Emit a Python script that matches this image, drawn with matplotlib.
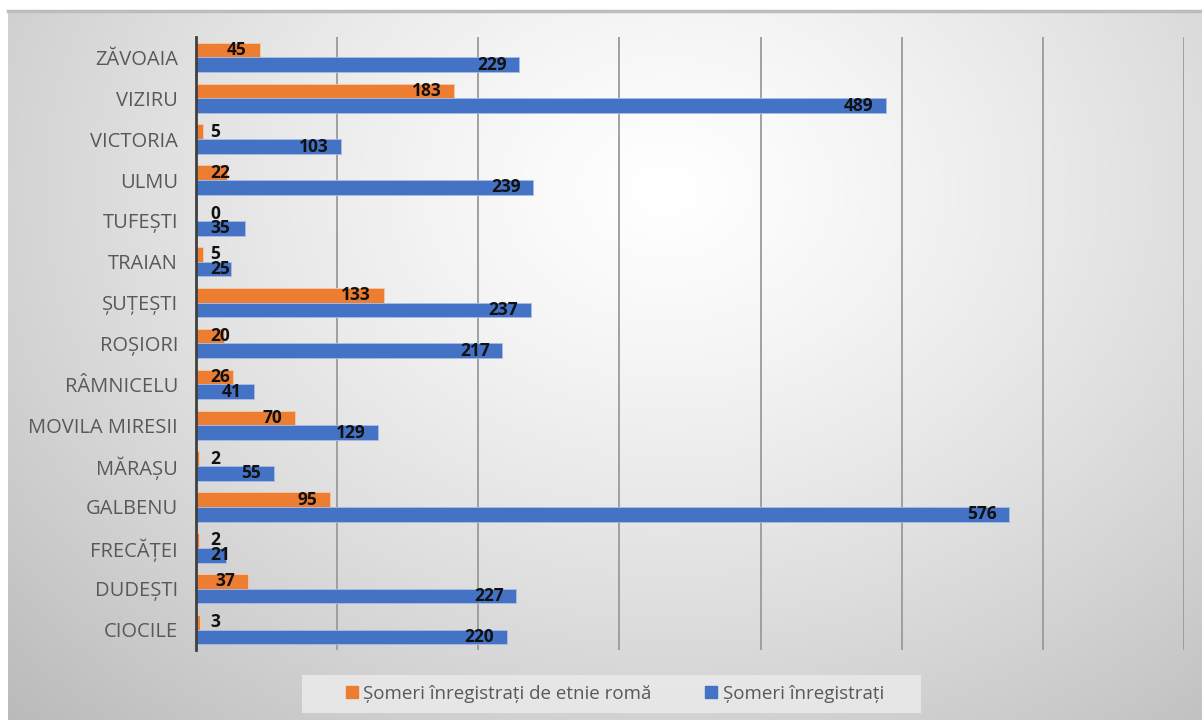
import numpy as np
import matplotlib
matplotlib.use("Agg")
import matplotlib.pyplot as plt
from matplotlib.lines import Line2D
from matplotlib.patches import Rectangle

plt.rcParams['font.family'] = ['Open Sans', 'DejaVu Sans']

categories = ["ZĂVOAIA", "VIZIRU", "VICTORIA", "ULMU", "TUFEȘTI", "TRAIAN", "ȘUȚEȘTI",
              "ROȘIORI", "RÂMNICELU", "MOVILA MIRESII", "MĂRAȘU", "GALBENU", "FRECĂȚEI",
              "DUDEȘTI", "CIOCILE"]
roma = [45, 183, 5, 22, 0, 5, 133, 20, 26, 70, 2, 95, 2, 37, 3]
total = [229, 489, 103, 239, 35, 25, 237, 217, 41, 129, 55, 576, 21, 227, 220]
series_names = ["Șomeri înregistrați de etnie romă", "Șomeri înregistrați"]
orange = "#ED7D31"
blue = "#4472C4"

W, H = 1202, 720
fig = plt.figure(figsize=(W / 100, H / 100), dpi=100)
fig.patch.set_facecolor("white")

# gradient background of chart area
bg = fig.add_axes([8 / W, 0, 1 - 8 / W, 1 - 11 / H])
bg.set_axis_off()
ny, nx = 300, 500
yy, xx = np.mgrid[0:ny, 0:nx]
cx, cy = 0.55 * nx, 0.25 * ny
r = np.sqrt(((xx - cx) / nx) ** 2 + ((yy - cy) / ny * 0.75) ** 2)
r = r / r.max()
val = 1.0 - 0.27 * np.clip(r, 0, 1) ** 1.3
img = np.dstack([val, val, val])
bg.imshow(img, aspect="auto", extent=[0, 1, 0, 1], origin="upper")
bg.set_xlim(0, 1)
bg.set_ylim(0, 1)
bg.plot([0, 1], [1, 1], color="#bdbdbd", lw=2.5, transform=bg.transAxes, clip_on=False)

ax = fig.add_axes([196 / W, 1 - 650 / H, (1184 - 196) / W, (650 - 37) / H])
ax.patch.set_alpha(0)
y = np.arange(len(categories))
h = 0.36
ax.barh(y - 0.18, roma, height=h, color=orange, edgecolor="#f5c9a8", linewidth=0.6, zorder=3)
ax.barh(y + 0.18, total, height=h, color=blue, edgecolor="#a9bde6", linewidth=0.6, zorder=3)

ax.set_xlim(0, 700)
ax.set_ylim(len(categories) - 0.5, -0.5)
ax.set_xticks(np.arange(0, 701, 100))
ax.set_xticklabels([])
ax.tick_params(axis="x", length=0)
ax.tick_params(axis="y", length=0, pad=13, labelsize=14.5, labelcolor="#595959")
ax.set_yticks(y)
ax.set_yticklabels(categories)
ax.grid(axis="x", color="#9a9a9a", lw=1.3, zorder=0)
for s in ["top", "right", "bottom"]:
    ax.spines[s].set_visible(False)
ax.spines["left"].set_color("#404040")
ax.spines["left"].set_linewidth(2)
ax.spines["left"].set_zorder(5)


def label(v, yc):
    if v < 37:
        ax.text(10, yc, str(v), ha="left", va="center", fontsize=12.5,
                fontweight="bold", color="#111111", zorder=4)
    else:
        ax.text(v - 9, yc, str(v), ha="right", va="center", fontsize=12.5,
                fontweight="bold", color="#111111", zorder=4)


for i in range(len(categories)):
    label(roma[i], y[i] - 0.18)
    label(total[i], y[i] + 0.18)

# legend background box
fig.patches.append(Rectangle((302 / W, 1 - 713 / H), (921 - 302) / W, 38 / H,
                             transform=fig.transFigure, facecolor="#e9e9e9",
                             edgecolor="none", alpha=0.9, zorder=1))

handles = [Line2D([], [], marker="s", ls="", color=orange, markersize=8),
           Line2D([], [], marker="s", ls="", color=blue, markersize=8)]
leg = fig.legend(handles, series_names, loc="center", ncol=2,
                 bbox_to_anchor=(614 / W, 1 - 694 / H), frameon=False,
                 fontsize=13.5, labelcolor="#595959", handletextpad=0.2,
                 columnspacing=2.8, borderpad=0.3, handlelength=0.8)

fig.savefig("out.png", dpi=100)
